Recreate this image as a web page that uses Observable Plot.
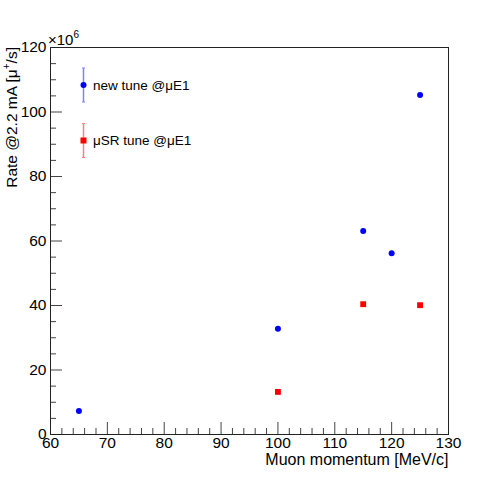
<!DOCTYPE html>
<html><head><meta charset="utf-8">
<script src="https://cdn.jsdelivr.net/npm/d3@7"></script>
<script src="https://cdn.jsdelivr.net/npm/@observablehq/plot@0.6"></script>
<style>body{margin:0;background:#fff}#chart{width:498px;height:482px}</style>
</head><body><div id="chart"></div>
<script>
// Data (rates in units of 10^6 μ+/s)
const momentumNew = [65, 100, 115, 120, 125];
const rateNew = [7.3, 32.8, 63.1, 56.2, 105.3];
const momentumMuSR = [100, 115, 125];
const rateMuSR = [13.2, 40.4, 40.1];

const seriesNames = ["new tune @μE1", "μSR tune @μE1"];
const seriesColors = ["#0000ff", "#ff0000"];
const seriesErrColors = ["#8080ff", "#ff8080"];

const xTicksMajor = [60, 70, 80, 90, 100, 110, 120, 130];
const xTicksMinor = [62,64,66,68,72,74,76,78,82,84,86,88,92,94,96,98,102,104,106,108,112,114,116,118,122,124,126,128];
const yTicksMajor = [0, 20, 40, 60, 80, 100, 120];
const yTicksMinor = [5,10,15,25,30,35,45,50,55,65,70,75,85,90,95,105,110,115];

const xTitle = "Muon momentum [MeV/c]";
const font = "Liberation Sans, Arial, Helvetica, sans-serif";

const newTune = momentumNew.map((m, i) => ({momentum: m, rate: rateNew[i]}));
const muSR = momentumMuSR.map((m, i) => ({momentum: m, rate: rateMuSR[i]}));

const W = 498, H = 482, mL = 50, mR = 50, mT = 47, mB = 48;
const pW = W - mL - mR, pH = H - mT - mB;
const tickColor = "#444";

const svg = Plot.plot({
  width: W, height: H,
  marginLeft: mL, marginRight: mR, marginTop: mT, marginBottom: mB,
  style: {fontFamily: font, background: "#fff", overflow: "visible"},
  x: {domain: [60, 130], axis: null},
  y: {domain: [0, 120], axis: null},
  marks: [
    Plot.tickX(xTicksMajor, {x: d => d, insetTop: pH - 12, stroke: tickColor, strokeWidth: 1}),
    Plot.tickX(xTicksMinor, {x: d => d, insetTop: pH - 6, stroke: tickColor, strokeWidth: 1}),
    Plot.tickY(yTicksMajor, {y: d => d, insetRight: pW - 12, stroke: tickColor, strokeWidth: 1}),
    Plot.tickY(yTicksMinor, {y: d => d, insetRight: pW - 6, stroke: tickColor, strokeWidth: 1}),
    Plot.frame({stroke: "#222", strokeWidth: 1}),
    Plot.axisX(xTicksMajor, {tickSize: 0, tickPadding: 2, fontSize: 15.5, fill: "#000", fontFamily: font, label: null}),
    Plot.axisY(yTicksMajor, {tickSize: 0, tickPadding: 4, fontSize: 15.5, fill: "#000", fontFamily: font, label: null}),
    Plot.text([xTitle], {frameAnchor: "bottom-right", textAnchor: "end", lineAnchor: "middle", dy: 25, fontSize: 16, fill: "#000"}),
    Plot.dot(newTune, {x: "momentum", y: "rate", r: 3, fill: seriesColors[0], stroke: null}),
    Plot.dot(muSR, {x: "momentum", y: "rate", symbol: "square", r: 3.3, fill: seriesColors[1], stroke: null})
  ]
});

const s = d3.select(svg);
// y-axis title (rotated, aligned to top of axis)
const yt = s.append("text")
  .attr("transform", `translate(${mL - 39},${mT}) rotate(-90)`)
  .attr("text-anchor", "end")
  .attr("dominant-baseline", "central")
  .attr("font-size", 15.5).attr("font-family", font).attr("fill", "#000");
yt.append("tspan").text("Rate @2.2 mA [μ");
yt.append("tspan").attr("font-size", 10).attr("dy", -5).text("+");
yt.append("tspan").attr("dy", 5).text("/s]");

// ×10^6 exponent
const ex = s.append("text").attr("x", mL - 2).attr("y", mT - 2)
  .attr("text-anchor", "start")
  .attr("font-size", 15).attr("font-family", font).attr("fill", "#000");
ex.append("tspan").text("×10");
ex.append("tspan").attr("font-size", 10).attr("dy", -7).text("6");

// legend
const legendY = [85, 140.5];
seriesNames.forEach((name, i) => {
  const g = s.append("g");
  const cx = 83.5, cy = legendY[i], e = 17;
  g.append("line").attr("x1", cx).attr("x2", cx).attr("y1", cy - e).attr("y2", cy + e)
    .attr("stroke", seriesErrColors[i]).attr("stroke-width", 1.5);
  [cy - e, cy + e].forEach(yy => g.append("line").attr("x1", cx - 1.5).attr("x2", cx + 1.5)
    .attr("y1", yy).attr("y2", yy).attr("stroke", seriesErrColors[i]).attr("stroke-width", 1));
  if (i === 0) g.append("circle").attr("cx", cx).attr("cy", cy).attr("r", 3).attr("fill", seriesColors[i]);
  else g.append("rect").attr("x", cx - 3).attr("y", cy - 3).attr("width", 6).attr("height", 6).attr("fill", seriesColors[i]);
  g.append("text").attr("x", 93).attr("y", cy).attr("dominant-baseline", "central")
    .attr("text-anchor", "start")
    .attr("font-size", 13.5).attr("font-family", font).attr("fill", "#000").text(name);
});

document.getElementById("chart").appendChild(svg);
</script>
</body></html>
